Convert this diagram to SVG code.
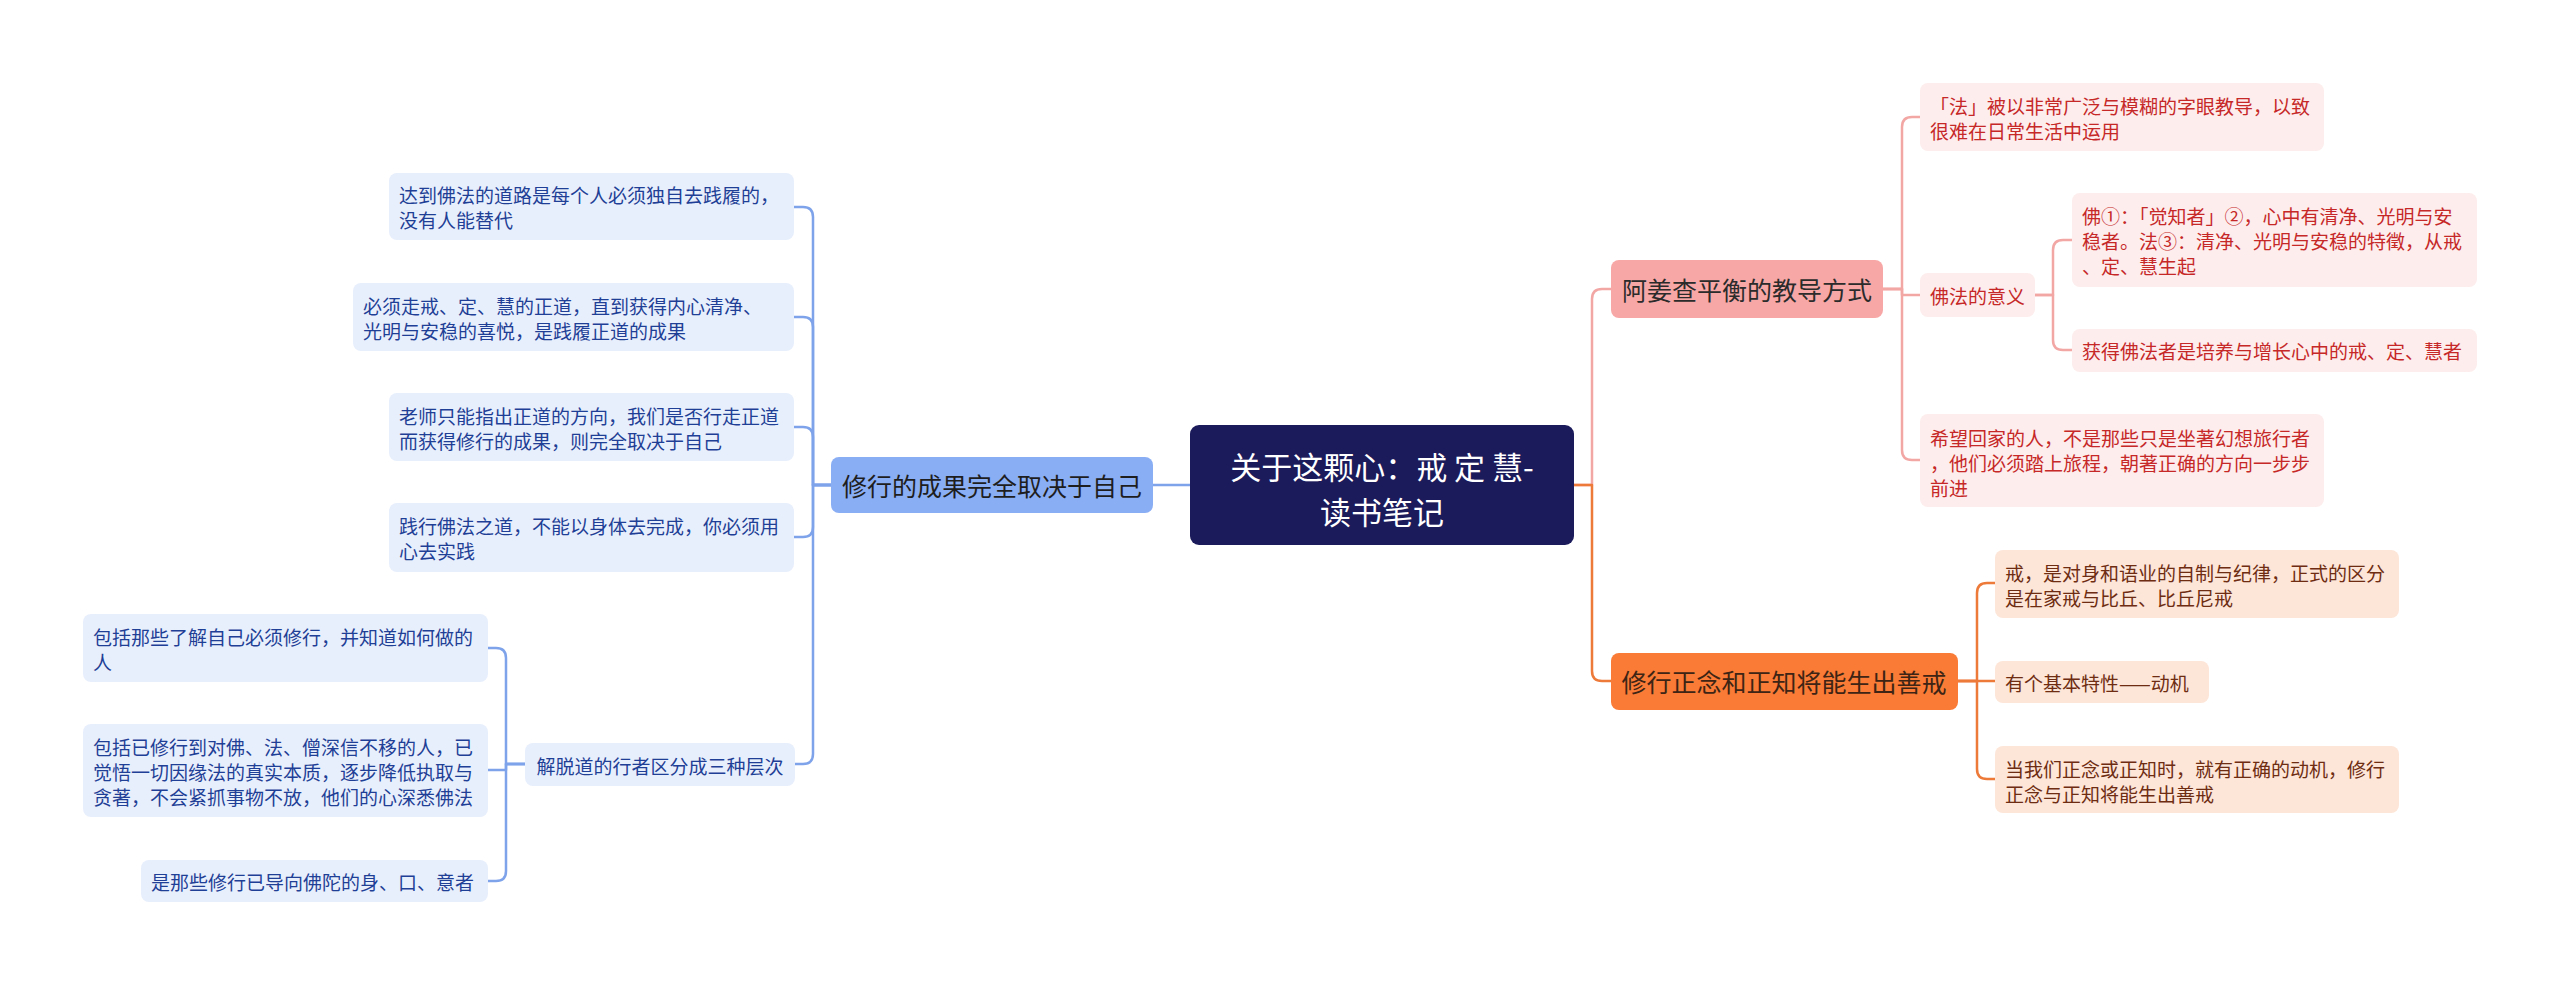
<svg xmlns="http://www.w3.org/2000/svg" width="2560" height="986" viewBox="0 0 2560 986">
<style>
text{font-family:"Noto Sans CJK SC","Liberation Sans",sans-serif;dominant-baseline:central}
.c{fill:none;stroke-width:2.5;stroke-linecap:round;stroke-linejoin:round}
.cb{stroke:#7fa3ea}.cp{stroke:#f2a7a5}.co{stroke:#ee7a3a}
.t19{font-size:19px}
.tb{fill:#1f3f96}.tp{fill:#c62828}.to{fill:#6e2d12}
.fb{fill:#e8effc}.fp{fill:#fdeded}.fo{fill:#fde5d8}
.mid{text-anchor:middle}
</style>
<rect width="2560" height="986" fill="#ffffff"/>
<g id="connectors">
<path class="c cb" d="M1190 485 H1153"/>
<path class="c cb" d="M831 485 H813 V217 Q813 207 803 207 H794"/>
<path class="c cb" d="M831 485 H813 V327 Q813 317 803 317 H794"/>
<path class="c cb" d="M831 485 H813 V437 Q813 427 803 427 H794"/>
<path class="c cb" d="M831 485 H813 V527 Q813 537 803 537 H794"/>
<path class="c cb" d="M831 485 H813 V754 Q813 764 803 764 H795"/>
<path class="c cb" d="M525 764 H506 V658 Q506 648 496 648 H488"/>
<path class="c cb" d="M525 764 H506 V770 H488"/>
<path class="c cb" d="M525 764 H506 V871 Q506 881 496 881 H488"/>
<path class="c cp" d="M1574 485 H1592 V299 Q1592 289 1602 289 H1611"/>
<path class="c cp" d="M1883 289 H1902 V127 Q1902 117 1912 117 H1920"/>
<path class="c cp" d="M1883 289 H1902 V295 H1920"/>
<path class="c cp" d="M1883 289 H1902 V450 Q1902 460 1912 460 H1920"/>
<path class="c cp" d="M2035 295 H2053 V250 Q2053 240 2063 240 H2072"/>
<path class="c cp" d="M2035 295 H2053 V340 Q2053 350 2063 350 H2072"/>
<path class="c co" d="M1574 485 H1592 V671 Q1592 681 1602 681 H1611"/>
<path class="c co" d="M1958 681 H1977 V593 Q1977 583 1987 583 H1995"/>
<path class="c co" d="M1958 681 H1995"/>
<path class="c co" d="M1958 681 H1977 V769 Q1977 779 1987 779 H1995"/>
</g>
<g id="root">
<rect x="1190" y="425" width="384" height="120" rx="9" fill="#1b1a5b"/>
<text x="1382" y="465" class="mid" font-size="31" fill="#ffffff">关于这颗心：戒 定 慧-</text>
<text x="1382" y="510" class="mid" font-size="31" fill="#ffffff">读书笔记</text>
</g>
<g id="main-left">
<rect x="831" y="457" width="322" height="56" rx="8" fill="#8aaef4"/>
<text x="992" y="485" class="mid" font-size="25" fill="#1e1e1e">修行的成果完全取决于自己</text>
</g>
<g id="b1">
<rect x="389" y="173" width="405" height="67" rx="8" class="fb"/>
<text x="399" y="194" class="t19 tb">达到佛法的道路是每个人必须独自去践履的，</text>
<text x="399" y="219" class="t19 tb">没有人能替代</text>
</g>
<g id="b2">
<rect x="353" y="283" width="441" height="68" rx="8" class="fb"/>
<text x="363" y="305" class="t19 tb">必须走戒、定、慧的正道，直到获得内心清净、</text>
<text x="363" y="330" class="t19 tb">光明与安稳的喜悦，是践履正道的成果</text>
</g>
<g id="b3">
<rect x="389" y="393" width="405" height="68" rx="8" class="fb"/>
<text x="399" y="415" class="t19 tb">老师只能指出正道的方向，我们是否行走正道</text>
<text x="399" y="440" class="t19 tb">而获得修行的成果，则完全取决于自己</text>
</g>
<g id="b4">
<rect x="389" y="503" width="405" height="69" rx="8" class="fb"/>
<text x="399" y="525" class="t19 tb">践行佛法之道，不能以身体去完成，你必须用</text>
<text x="399" y="550" class="t19 tb">心去实践</text>
</g>
<g id="b5">
<rect x="525" y="743" width="270" height="43" rx="8" class="fb"/>
<text x="660" y="765" class="t19 tb mid">解脱道的行者区分成三种层次</text>
</g>
<g id="c1">
<rect x="83" y="614" width="405" height="68" rx="8" class="fb"/>
<text x="93" y="636" class="t19 tb">包括那些了解自己必须修行，并知道如何做的</text>
<text x="93" y="661" class="t19 tb">人</text>
</g>
<g id="c2">
<rect x="83" y="724" width="405" height="93" rx="8" class="fb"/>
<text x="93" y="746" class="t19 tb">包括已修行到对佛、法、僧深信不移的人，已</text>
<text x="93" y="771" class="t19 tb">觉悟一切因缘法的真实本质，逐步降低执取与</text>
<text x="93" y="796" class="t19 tb">贪著，不会紧抓事物不放，他们的心深悉佛法</text>
</g>
<g id="c3">
<rect x="141" y="860" width="347" height="42" rx="8" class="fb"/>
<text x="151" y="881" class="t19 tb">是那些修行已导向佛陀的身、口、意者</text>
</g>
<g id="main-pink">
<rect x="1611" y="260" width="272" height="58" rx="8" fill="#f7a7a6"/>
<text x="1747" y="289" class="mid" font-size="25" fill="#2b2b2b">阿姜查平衡的教导方式</text>
</g>
<g id="p1">
<rect x="1920" y="83" width="404" height="68" rx="8" class="fp"/>
<text x="1930" y="105" class="t19 tp">「法」被以非常广泛与模糊的字眼教导，以致</text>
<text x="1930" y="130" class="t19 tp">很难在日常生活中运用</text>
</g>
<g id="p2">
<rect x="1920" y="273" width="115" height="44" rx="8" class="fp"/>
<text x="1930" y="295" class="t19 tp">佛法的意义</text>
</g>
<g id="p21">
<rect x="2072" y="193" width="405" height="94" rx="8" class="fp"/>
<text x="2082" y="215" class="t19 tp">佛①：「觉知者」②，心中有清净、光明与安</text>
<text x="2082" y="240" class="t19 tp">稳者。法③：清净、光明与安稳的特徵，从戒</text>
<text x="2082" y="265" class="t19 tp">、定、慧生起</text>
</g>
<g id="p22">
<rect x="2072" y="329" width="405" height="43" rx="8" class="fp"/>
<text x="2082" y="350" class="t19 tp">获得佛法者是培养与增长心中的戒、定、慧者</text>
</g>
<g id="p3">
<rect x="1920" y="414" width="404" height="93" rx="8" class="fp"/>
<text x="1930" y="437" class="t19 tp">希望回家的人，不是那些只是坐著幻想旅行者</text>
<text x="1930" y="462" class="t19 tp">，他们必须踏上旅程，朝著正确的方向一步步</text>
<text x="1930" y="487" class="t19 tp">前进</text>
</g>
<g id="main-orange">
<rect x="1611" y="653" width="347" height="57" rx="8" fill="#f97b36"/>
<text x="1784" y="681" class="mid" font-size="25" fill="#3d2414">修行正念和正知将能生出善戒</text>
</g>
<g id="o1">
<rect x="1995" y="550" width="404" height="68" rx="8" class="fo"/>
<text x="2005" y="572" class="t19 to">戒，是对身和语业的自制与纪律，正式的区分</text>
<text x="2005" y="597" class="t19 to">是在家戒与比丘、比丘尼戒</text>
</g>
<g id="o2">
<rect x="1995" y="661" width="214" height="42" rx="8" class="fo"/>
<text x="2005" y="682" class="t19 to">有个基本特性——动机</text>
</g>
<g id="o3">
<rect x="1995" y="746" width="404" height="67" rx="8" class="fo"/>
<text x="2005" y="768" class="t19 to">当我们正念或正知时，就有正确的动机，修行</text>
<text x="2005" y="793" class="t19 to">正念与正知将能生出善戒</text>
</g>
</svg>
